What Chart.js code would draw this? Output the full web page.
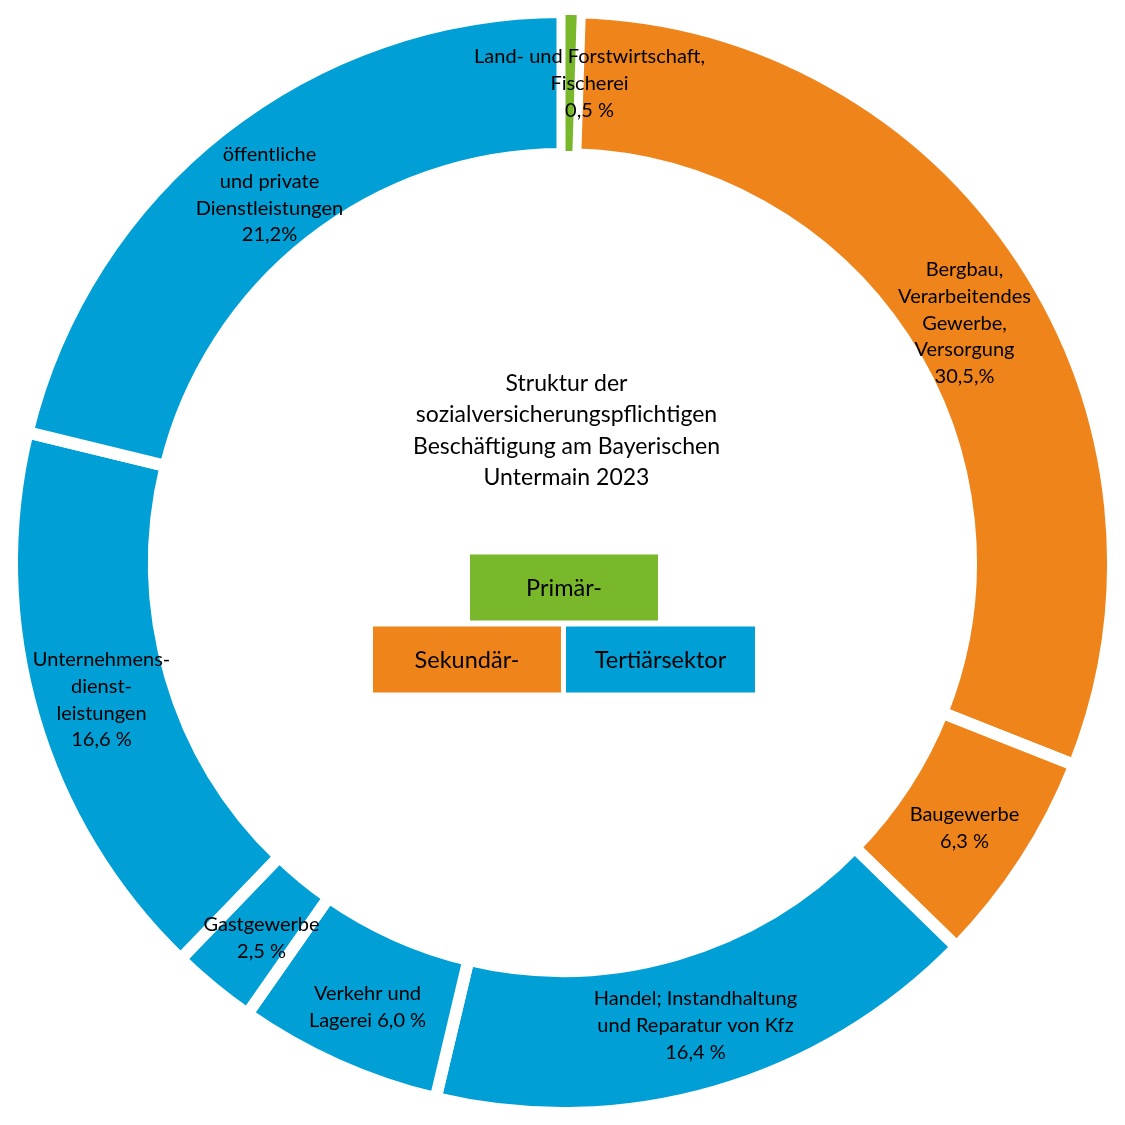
<!DOCTYPE html>
<html>
<head>
<meta charset="utf-8">
<script src="https://cdn.jsdelivr.net/npm/chart.js@4.4.1/dist/chart.umd.min.js"></script>
<style>
  html, body { margin: 0; padding: 0; background: #fff; }
  #wrap { width: 1125px; height: 1125px; }
</style>
</head>
<body>
<div id="wrap"><canvas id="chart" width="1125" height="1125"></canvas></div>
<script>
"use strict";

// ---- data (drawing order: Land- und Forstwirtschaft last so its thin slice stays visible) ----
const categories = [
  "Bergbau, Verarbeitendes Gewerbe, Versorgung",
  "Baugewerbe",
  "Handel; Instandhaltung und Reparatur von Kfz",
  "Verkehr und Lagerei",
  "Gastgewerbe",
  "Unternehmensdienstleistungen",
  "öffentliche und private Dienstleistungen",
  "Land- und Forstwirtschaft, Fischerei",
];
const shares = [30.5, 6.3, 16.4, 6.0, 2.5, 16.6, 21.2, 0.5];
const sectorOf = ["sek", "sek", "ter", "ter", "ter", "ter", "ter", "prim"];
const sliceLabels = [
  ["Bergbau,", "Verarbeitendes", "Gewerbe,", "Versorgung", "30,5,%"],
  ["Baugewerbe", "6,3 %"],
  ["Handel; Instandhaltung", "und Reparatur von Kfz", "16,4 %"],
  ["Verkehr und", "Lagerei 6,0 %"],
  ["Gastgewerbe", "2,5 %"],
  ["Unternehmens-", "dienst-", "leistungen", "16,6 %"],
  ["öffentliche", "und private", "Dienstleistungen", "21,2%"],
  ["Land- und Forstwirtschaft,", "Fischerei", "0,5 %"],
];
const sectorNames = { prim: "Primär-", sek: "Sekundär-", ter: "Tertiärsektor" };
const titleLines = [
  "Struktur der",
  "sozialversicherungspflichtigen",
  "Beschäftigung am Bayerischen",
  "Untermain 2023",
];

// ---- look ----
const COLORS = { prim: "#79B82A", sek: "#EF841B", ter: "#009FD6" };
const FONT = "Lato, 'Open Sans', sans-serif";

// label anchors, pixel offsets from the ring centre (x, y of first line centre)
const labelPos = [
  [402, -293], [402, 252], [133, 436], [-195, 431],
  [-301, 362], [-461, 97], [-293, -408], [27, -506],
];
const LINE_H = 26.8;

// sector boxes, offsets from centre: [x, y, w, h]
const boxPos = {
  prim: [-92.5, -8, 188, 66],
  sek: [-189.5, 64, 188, 66],
  ter: [3.5, 64, 189, 66],
};

const overlay = {
  id: "overlay",
  afterDatasetsDraw(chart) {
    const arc = chart.getDatasetMeta(0).data[0];
    const cx = arc.x, cy = arc.y;
    const c = chart.ctx;
    c.save();
    c.textAlign = "center";
    c.textBaseline = "middle";

    // slice labels
    c.fillStyle = "#000";
    c.font = "20px " + FONT;
    sliceLabels.forEach((lines, i) => {
      const [dx, dy] = labelPos[i];
      lines.forEach((t, k) => c.fillText(t, cx + dx, cy + dy + k * LINE_H));
    });

    // centre title
    c.font = "23px " + FONT;
    titleLines.forEach((t, k) => c.fillText(t, cx + 4, cy - 179 + k * 31.5));

    // sector boxes
    c.font = "23.5px " + FONT;
    Object.keys(boxPos).forEach((k) => {
      const [x, y, w, h] = boxPos[k];
      c.fillStyle = COLORS[k];
      c.fillRect(cx + x, cy + y, w, h);
      c.fillStyle = "#000";
      c.fillText(sectorNames[k], cx + x + w / 2, cy + y + h / 2 + 1);
    });
    c.restore();
  },
};

new Chart(document.getElementById("chart").getContext("2d"), {
  type: "doughnut",
  data: {
    labels: categories,
    datasets: [{
      data: shares,
      backgroundColor: sectorOf.map((s) => COLORS[s]),
      borderColor: "#fff",
      borderWidth: shares.map((v, i) => (i === shares.length - 1 ? 6 : 12)),
      borderJoinStyle: "miter",
      hoverOffset: 0,
    }],
  },
  options: {
    responsive: false,
    animation: false,
    devicePixelRatio: 1,
    rotation: (shares[shares.length - 1] / 100) * 360,
    cutout: "74.2%",
    layout: { padding: 6 },
    plugins: { legend: { display: false }, tooltip: { enabled: false } },
  },
  plugins: [overlay],
});
</script>
</body>
</html>
